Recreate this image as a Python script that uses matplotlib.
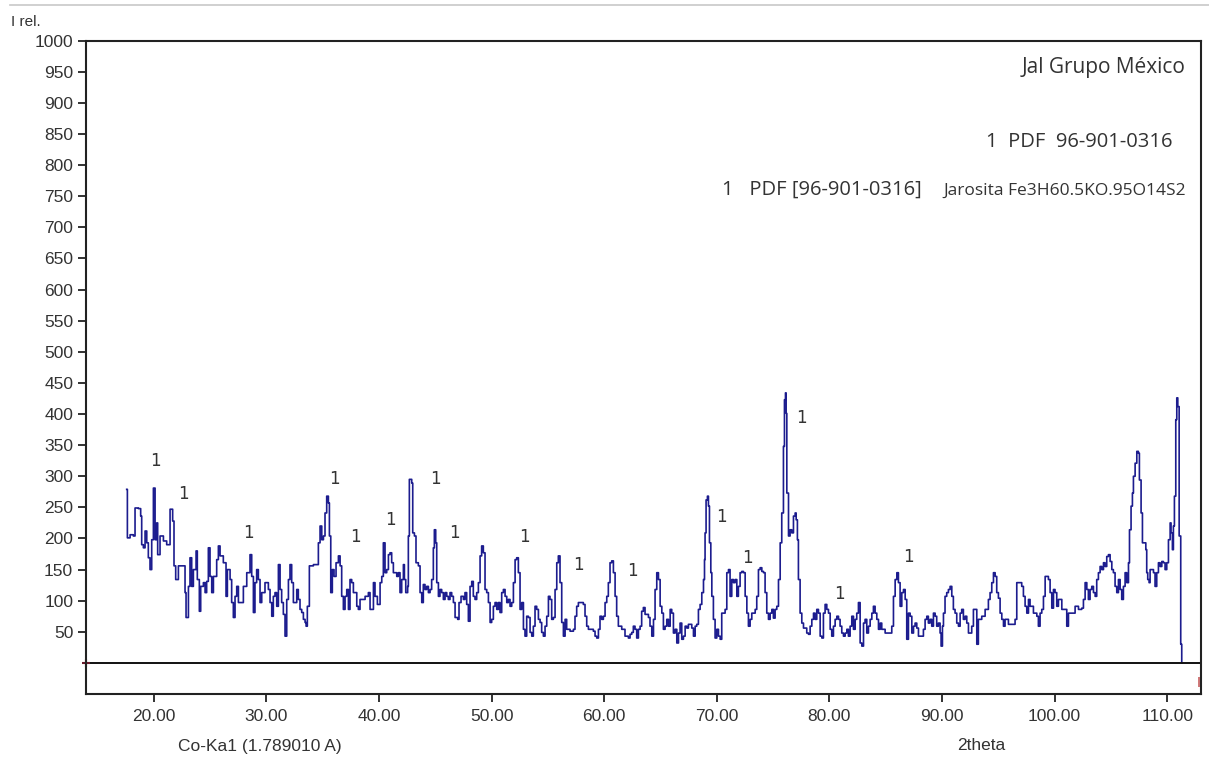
import numpy as np
import matplotlib
matplotlib.use("Agg")
import matplotlib.pyplot as plt
from matplotlib.lines import Line2D

# 2theta (deg) and relative intensity, read in order along the scan
two_theta = [
    17.60, 17.66, 17.90, 18.19, 18.34, 18.64, 18.84, 18.93, 19.08, 19.23,
    19.38, 19.52, 19.67, 19.82, 19.97, 20.12, 20.26, 20.35, 20.56, 20.86,
    21.15, 21.45, 21.68, 21.80, 21.95, 22.19, 22.63, 22.78, 22.87, 23.08,
    23.22, 23.37, 23.52, 23.76, 23.87, 24.05, 24.17, 24.41, 24.56, 24.70,
    24.85, 25.00, 25.15, 25.30, 25.59, 25.74, 25.89, 26.18, 26.42, 26.54,
    26.78, 26.92, 27.07, 27.22, 27.37, 27.52, 27.72, 27.96, 28.26, 28.55,
    28.70, 28.85, 28.99, 29.14, 29.29, 29.44, 29.59, 29.88, 30.18, 30.33,
    30.48, 30.62, 30.77, 30.92, 31.07, 31.22, 31.36, 31.51, 31.66, 31.81,
    31.96, 32.10, 32.25, 32.40, 32.70, 32.84, 32.99, 33.14, 33.29, 33.44,
    33.53, 33.64, 33.82, 34.18, 34.47, 34.62, 34.77, 34.92, 35.07, 35.21,
    35.36, 35.51, 35.60, 35.72, 35.86, 36.01, 36.19, 36.40, 36.55, 36.69,
    36.84, 36.99, 37.14, 37.29, 37.43, 37.58, 37.73, 38.03, 38.17, 38.32,
    38.77, 39.06, 39.21, 39.51, 39.65, 39.86, 40.10, 40.25, 40.39, 40.54,
    40.69, 40.84, 40.98, 41.13, 41.28, 41.58, 41.72, 41.87, 42.02, 42.17,
    42.26, 42.38, 42.55, 42.61, 42.70, 42.91, 43.00, 43.15, 43.29, 43.50,
    43.65, 43.80, 43.94, 44.09, 44.24, 44.39, 44.54, 44.68, 44.83, 44.92,
    45.04, 45.13, 45.28, 45.42, 45.57, 45.72, 45.87, 46.02, 46.16, 46.31,
    46.46, 46.61, 46.76, 46.99, 47.11, 47.29, 47.50, 47.64, 47.79, 47.94,
    48.09, 48.24, 48.38, 48.53, 48.68, 48.83, 48.98, 49.12, 49.27, 49.42,
    49.57, 49.72, 49.87, 50.01, 50.16, 50.31, 50.46, 50.61, 50.75, 50.90,
    51.05, 51.20, 51.35, 51.49, 51.64, 51.79, 51.94, 52.09, 52.23, 52.38,
    52.53, 52.68, 52.83, 52.97, 53.12, 53.27, 53.42, 53.57, 53.71, 53.86,
    54.01, 54.16, 54.31, 54.45, 54.60, 54.75, 54.90, 55.05, 55.19, 55.34,
    55.49, 55.64, 55.79, 55.93, 56.08, 56.23, 56.38, 56.53, 56.67, 56.97,
    57.27, 57.41, 57.56, 57.71, 58.15, 58.30, 58.45, 58.60, 59.04, 59.19,
    59.34, 59.49, 59.63, 59.78, 59.93, 60.08, 60.23, 60.37, 60.52, 60.67,
    60.82, 60.97, 61.11, 61.26, 61.56, 61.85, 62.15, 62.30, 62.45, 62.59,
    62.74, 62.89, 63.04, 63.19, 63.33, 63.48, 63.63, 63.93, 64.07, 64.23,
    64.38, 64.52, 64.67, 64.82, 64.97, 65.12, 65.26, 65.41, 65.56, 65.71,
    65.86, 66.00, 66.15, 66.30, 66.45, 66.60, 66.74, 66.89, 67.04, 67.19,
    67.34, 67.48, 67.78, 67.93, 68.08, 68.22, 68.37, 68.52, 68.67, 68.82,
    68.91, 68.96, 69.05, 69.17, 69.26, 69.35, 69.47, 69.56, 69.70, 69.85,
    70.00, 70.15, 70.30, 70.44, 70.74, 70.89, 71.04, 71.18, 71.33, 71.48,
    71.63, 71.78, 71.92, 72.07, 72.22, 72.37, 72.52, 72.67, 72.81, 72.96,
    73.11, 73.41, 73.55, 73.70, 73.85, 74.00, 74.15, 74.29, 74.44, 74.59,
    74.74, 74.89, 75.03, 75.18, 75.33, 75.48, 75.63, 75.77, 75.92, 76.01,
    76.10, 76.16, 76.22, 76.37, 76.51, 76.66, 76.81, 76.96, 77.05, 77.16,
    77.25, 77.40, 77.55, 77.70, 77.99, 78.14, 78.29, 78.44, 78.59, 78.73,
    78.88, 79.03, 79.18, 79.33, 79.47, 79.62, 79.77, 79.92, 80.07, 80.21,
    80.36, 80.51, 80.66, 80.81, 80.95, 81.10, 81.25, 81.40, 81.55, 81.69,
    81.84, 81.99, 82.14, 82.29, 82.43, 82.58, 82.73, 82.88, 83.03, 83.17,
    83.32, 83.47, 83.62, 83.77, 83.91, 84.06, 84.21, 84.36, 84.51, 84.65,
    84.95, 85.25, 85.54, 85.69, 85.84, 85.99, 86.13, 86.28, 86.43, 86.58,
    86.73, 86.87, 87.02, 87.17, 87.32, 87.47, 87.61, 87.76, 87.91, 88.20,
    88.35, 88.50, 88.65, 88.79, 88.94, 89.09, 89.24, 89.39, 89.53, 89.68,
    89.83, 89.92, 90.04, 90.13, 90.27, 90.42, 90.57, 90.72, 90.87, 91.01,
    91.16, 91.31, 91.46, 91.61, 91.75, 91.90, 92.05, 92.20, 92.35, 92.64,
    92.79, 93.09, 93.23, 93.53, 93.83, 94.12, 94.27, 94.42, 94.57, 94.72,
    94.86, 95.01, 95.16, 95.31, 95.46, 95.60, 95.90, 96.19, 96.49, 96.64,
    96.94, 97.08, 97.23, 97.38, 97.53, 97.68, 97.82, 98.12, 98.42, 98.56,
    98.71, 98.86, 99.01, 99.16, 99.45, 99.60, 99.75, 99.90, 100.04, 100.19,
    100.34, 100.64, 100.93, 101.08, 101.23, 101.52, 101.82, 102.12, 102.41, 102.56,
    102.71, 102.86, 103.00, 103.15, 103.30, 103.45, 103.60, 103.74, 103.89, 104.04,
    104.19, 104.34, 104.48, 104.63, 104.78, 104.93, 105.08, 105.22, 105.37, 105.52,
    105.67, 105.82, 105.96, 106.11, 106.26, 106.41, 106.56, 106.65, 106.79, 106.91,
    107.00, 107.15, 107.30, 107.44, 107.53, 107.68, 107.80, 107.98, 108.10, 108.18,
    108.27, 108.39, 108.48, 108.78, 108.92, 109.07, 109.22, 109.37, 109.52, 109.66,
    109.81, 109.96, 110.11, 110.26, 110.34, 110.46, 110.55, 110.64, 110.76, 110.85,
    110.94, 111.06, 111.20, 111.29,
]
intensity = [
    279, 201, 206, 204, 249, 248, 236, 190, 185, 212,
    193, 169, 150, 198, 281, 198, 225, 174, 204, 196,
    190, 247, 228, 156, 134, 156, 156, 113, 73, 123,
    169, 123, 150, 180, 134, 83, 123, 129, 113, 131,
    185, 139, 113, 139, 166, 188, 172, 161, 107, 150,
    134, 97, 73, 107, 123, 97, 97, 123, 145, 174,
    139, 81, 129, 150, 134, 97, 113, 129, 118, 97,
    75, 107, 113, 91, 158, 118, 97, 78, 43, 102,
    134, 158, 129, 97, 118, 102, 86, 81, 70, 65,
    59, 91, 156, 158, 158, 193, 220, 198, 204, 241,
    268, 257, 204, 113, 150, 139, 161, 172, 156, 107,
    86, 107, 118, 86, 134, 129, 113, 91, 86, 102,
    107, 113, 86, 129, 107, 94, 129, 139, 193, 145,
    150, 174, 177, 161, 145, 139, 145, 113, 134, 158,
    134, 113, 123, 204, 295, 289, 209, 204, 161, 156,
    113, 97, 126, 118, 123, 113, 118, 134, 185, 214,
    193, 129, 107, 118, 113, 102, 113, 107, 102, 113,
    107, 97, 73, 70, 97, 107, 102, 113, 94, 67,
    123, 131, 107, 102, 113, 129, 172, 188, 177, 118,
    113, 97, 65, 70, 91, 97, 86, 97, 81, 113,
    118, 107, 97, 102, 91, 97, 129, 166, 169, 145,
    86, 97, 54, 43, 75, 73, 49, 43, 59, 91,
    86, 70, 65, 49, 43, 59, 75, 107, 102, 70,
    73, 118, 161, 172, 129, 65, 43, 70, 54, 51,
    54, 75, 91, 97, 94, 75, 59, 54, 51, 43,
    40, 54, 75, 70, 75, 97, 107, 129, 161, 164,
    145, 107, 75, 59, 54, 43, 40, 46, 49, 59,
    54, 40, 54, 59, 83, 89, 78, 73, 59, 43,
    70, 118, 145, 134, 91, 80, 54, 59, 70, 59,
    86, 80, 48, 54, 32, 48, 64, 38, 43, 59,
    56, 62, 56, 43, 59, 62, 86, 94, 113, 134,
    166, 209, 262, 268, 252, 193, 145, 107, 70, 40,
    54, 43, 38, 80, 86, 145, 150, 107, 134, 129,
    134, 107, 123, 145, 147, 145, 107, 80, 59, 70,
    80, 86, 107, 150, 153, 147, 145, 113, 80, 70,
    80, 86, 72, 86, 91, 134, 193, 241, 348, 423,
    434, 401, 273, 204, 214, 209, 236, 241, 230, 198,
    134, 80, 64, 56, 48, 46, 59, 70, 80, 70,
    86, 80, 43, 40, 80, 94, 86, 80, 54, 43,
    59, 70, 75, 70, 59, 48, 43, 48, 54, 43,
    59, 75, 54, 70, 80, 97, 32, 27, 64, 70,
    48, 59, 70, 80, 91, 80, 70, 54, 64, 54,
    48, 48, 59, 107, 134, 145, 129, 91, 113, 118,
    102, 38, 80, 75, 48, 59, 64, 56, 43, 43,
    54, 70, 75, 64, 70, 59, 80, 75, 59, 64,
    48, 27, 59, 80, 107, 113, 118, 123, 107, 86,
    80, 64, 59, 80, 86, 70, 75, 64, 48, 59,
    86, 30, 70, 75, 86, 102, 113, 129, 145, 139,
    113, 104, 80, 70, 59, 70, 62, 62, 70, 129,
    129, 123, 107, 91, 80, 102, 91, 80, 75, 59,
    80, 86, 107, 139, 134, 113, 88, 118, 113, 91,
    102, 86, 86, 59, 80, 80, 91, 86, 88, 102,
    129, 118, 102, 118, 123, 113, 107, 134, 145, 155,
    150, 161, 155, 171, 174, 163, 150, 145, 123, 113,
    134, 118, 102, 123, 145, 129, 161, 214, 252, 273,
    300, 321, 340, 337, 294, 241, 193, 193, 182, 145,
    134, 129, 150, 145, 123, 145, 161, 155, 163, 161,
    150, 161, 198, 225, 209, 182, 220, 268, 391, 426,
    412, 204, 30, 0,
]

# "1" = Jarosita reflections (PDF 96-901-0316), label anchor points
peak_2theta = [20.13, 22.61, 28.38, 36.01, 37.88, 40.99, 44.99, 46.68,
               52.90, 57.70, 62.49, 70.40, 72.71, 77.51, 80.88, 87.01]
peak_label_y = [325, 272, 209, 296, 203, 229, 296, 209,
                203, 158, 148, 235, 168, 394, 111, 170]

y_ticks = list(range(50, 1001, 50))
x_ticks = [20, 30, 40, 50, 60, 70, 80, 90, 100, 110]

plt.rcParams["font.family"] = ["Liberation Sans", "DejaVu Sans"]
fig = plt.figure(figsize=(12.09, 7.57), dpi=100)
ax = fig.add_axes([0.0709, 0.0832, 0.9222, 0.8630])

ax.plot(two_theta, intensity, drawstyle="steps-post", color="#1c1c8e", lw=1.2)
ax.axhline(0, color="#111111", lw=1.4)
# cursor marks of the viewer
ax.plot([13.96], [0], marker="+", ms=6, mew=1.5, color="#6a1a2a", clip_on=False)
ax.plot([112.85], [-30], marker="|", ms=7, mew=1.2, color="#c86060", clip_on=False)

for xp, yp in zip(peak_2theta, peak_label_y):
    ax.text(xp, yp, "1", ha="center", va="center", fontsize=12,
            color="#333333", family=["DejaVu Sans"])

ax.set_xlim(13.96, 112.97)
ax.set_ylim(-50, 1000)
ax.set_xticks(x_ticks)
ax.set_xticklabels(["%.2f" % v for v in x_ticks])
ax.set_yticks(y_ticks)
ax.tick_params(axis="both", direction="out", length=6, width=1.3,
               colors="#222222", labelcolor="#333333", labelsize=12.5)
ax.tick_params(axis="y", pad=3)
ax.tick_params(axis="x", pad=5)
for sp in ax.spines.values():
    sp.set_linewidth(1.5)
    sp.set_color("#222222")

# header texts in the upper right of the plot
tfont = ["Open Sans", "DejaVu Sans"]
fig.text(1186 / 1209, 1 - 67 / 757, "Jal Grupo México", ha="right", va="center",
         fontsize=15, color="#333333", family=tfont)
fig.text(1172 / 1209, 1 - 142 / 757, "1  PDF  96-901-0316", ha="right", va="center",
         fontsize=14.5, color="#333333", family=tfont)
fig.text(722 / 1209, 1 - 190 / 757, "1   PDF [96-901-0316]", ha="left", va="center",
         fontsize=14.5, color="#333333", family=tfont)
fig.text(1186 / 1209, 1 - 191 / 757, "Jarosita Fe3H60.5KO.95O14S2", ha="right", va="center",
         fontsize=12.5, color="#333333", family=tfont)

fig.text(11 / 1209, 1 - 22 / 757, "I rel.", ha="left", va="center",
         fontsize=11, color="#333333")
fig.text(178 / 1209, 1 - 746 / 757, "Co-Ka1 (1.789010 A)", ha="left", va="center",
         fontsize=12.5, color="#333333")
fig.text(957 / 1209, 1 - 746 / 757, "2theta", ha="left", va="center",
         fontsize=12.5, color="#333333")

# thin rule across the top of the window
fig.add_artist(Line2D([10 / 1209, 1.0], [1 - 5 / 757, 1 - 5 / 757],
                      transform=fig.transFigure, color="#c8c8c8", lw=1.2))

fig.savefig("out.png", dpi=100)
